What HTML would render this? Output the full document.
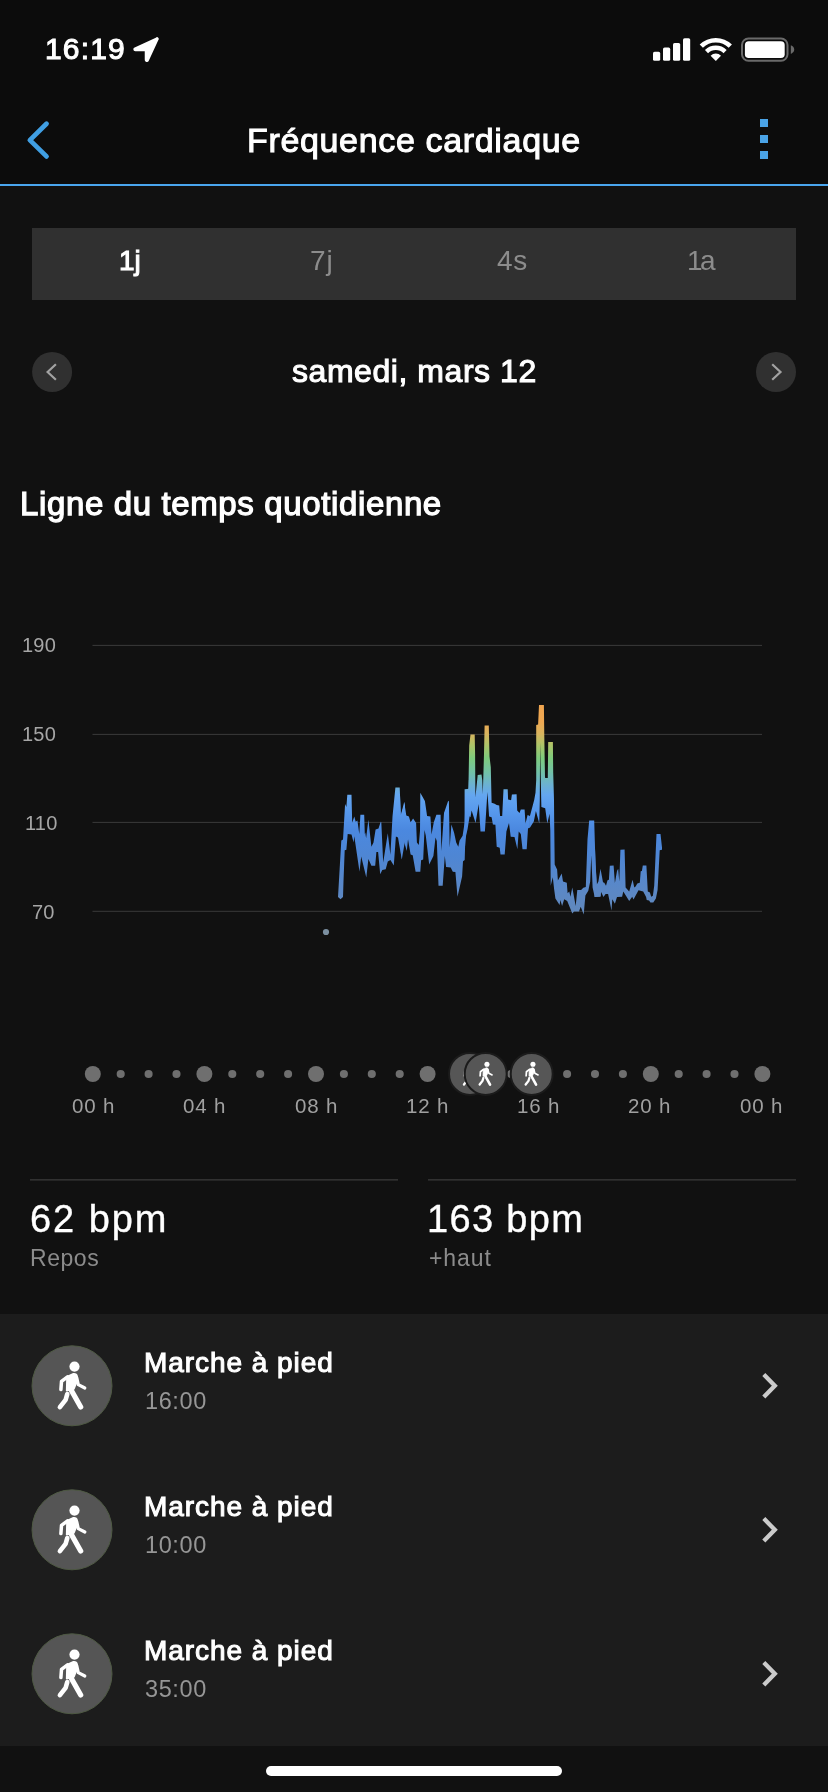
<!DOCTYPE html>
<html lang="fr">
<head>
<meta charset="utf-8">
<title>Fréquence cardiaque</title>
<style>
*{margin:0;padding:0;box-sizing:border-box;}
html,body{width:828px;height:1792px;overflow:hidden;background:#111111;}
body{position:relative;font-family:"Liberation Sans",sans-serif;color:#fff;-webkit-font-smoothing:antialiased;}
.abs{position:absolute;white-space:nowrap;line-height:1;will-change:transform;}
.semi{-webkit-text-stroke:1.05px #fff;paint-order:stroke fill;}
#header{position:absolute;left:0;top:0;width:828px;height:184px;background:#0c0c0c;}
#hline{position:absolute;left:0;top:184px;width:828px;height:2px;background:#4aa6ee;}
#tabs{position:absolute;left:32px;top:228px;width:764px;height:72px;background:#303030;}
#list{position:absolute;left:0;top:1314px;width:828px;height:432px;background:#1c1c1c;}
#homebar{position:absolute;left:266px;top:1766px;width:296px;height:10px;border-radius:5px;background:#fff;}
svg{position:absolute;left:0;top:0;overflow:visible;}
.g{color:#8c8c8c;}
</style>
</head>
<body>
<div id="header"></div>
<div id="hline"></div>

<!-- status bar -->
<div class="abs semi" id="time" style="left:44.5px;top:34.4px;font-size:30px;letter-spacing:1.15px;">16:19</div>

<!-- title -->
<div class="abs semi" id="title" style="left:247px;top:122.62px;font-size:34px;letter-spacing:0.66px;">Fréquence cardiaque</div>

<!-- tabs -->
<div id="tabs"></div>
<div class="abs semi" id="t1" style="left:118.5px;top:247px;font-size:28px;">1j</div>
<div class="abs g" id="t2" style="left:310px;top:247px;font-size:28px;letter-spacing:1px;">7j</div>
<div class="abs g" id="t3" style="left:496.5px;top:247px;font-size:28px;letter-spacing:0.7px;">4s</div>
<div class="abs g" id="t4" style="left:686.5px;top:247px;font-size:28px;letter-spacing:-2.5px;">1a</div>

<!-- date -->
<div class="abs semi" id="date" style="left:291.5px;top:355.31px;font-size:32px;letter-spacing:0.55px;">samedi, mars 12</div>

<!-- section title -->
<div class="abs semi" id="sect" style="-webkit-text-stroke-width:1.25px;left:20px;top:486.67px;font-size:33px;letter-spacing:0.63px;">Ligne du temps quotidienne</div>

<!-- y labels -->
<div class="abs yl" id="y190" style="left:22px;top:635px;">190</div>
<div class="abs yl" id="y150" style="left:22px;top:724px;">150</div>
<div class="abs yl" id="y110" style="left:25.3px;top:813px;">110</div>
<div class="abs yl" id="y70" style="left:32.2px;top:902px;">70</div>

<!-- x labels -->
<div class="abs xl" id="x0" style="left:72px;top:1096px;">00 h</div>
<div class="abs xl" id="x4" style="left:183px;top:1096px;">04 h</div>
<div class="abs xl" id="x8" style="left:295px;top:1096px;">08 h</div>
<div class="abs xl" id="x12" style="left:406.3px;top:1096px;">12 h</div>
<div class="abs xl" id="x16" style="left:517.3px;top:1096px;">16 h</div>
<div class="abs xl" id="x20" style="left:628.3px;top:1096px;">20 h</div>
<div class="abs xl" id="x24" style="left:740px;top:1096px;">00 h</div>

<!-- stats -->
<div class="abs" id="s1" style="-webkit-text-stroke:0.35px #fff;left:29.5px;top:1200.4px;font-size:38px;letter-spacing:1.95px;">62 bpm</div>
<div class="abs g" id="s1l" style="left:30px;top:1247.2px;font-size:23px;letter-spacing:0.55px;">Repos</div>
<div class="abs" id="s2" style="-webkit-text-stroke:0.35px #fff;left:426.5px;top:1200.4px;font-size:38px;letter-spacing:1.35px;">163 bpm</div>
<div class="abs g" id="s2l" style="left:428.5px;top:1247.2px;font-size:23px;letter-spacing:0.9px;">+haut</div>

<!-- list -->
<div id="list"></div>
<div class="abs semi lt" id="l1" style="left:144px;top:1348.8px;">Marche à pied</div>
<div class="abs ls" id="l1s" style="left:144.5px;top:1390.01px;">16:00</div>
<div class="abs semi lt" id="l2" style="left:144px;top:1492.8px;">Marche à pied</div>
<div class="abs ls" id="l2s" style="left:144.5px;top:1534.01px;">10:00</div>
<div class="abs semi lt" id="l3" style="left:144px;top:1636.8px;">Marche à pied</div>
<div class="abs ls" id="l3s" style="left:144.5px;top:1678.01px;">35:00</div>

<div id="homebar"></div>

<svg id="gfx" width="828" height="1792" viewBox="0 0 828 1792">
<path d="M135.17 47.17 L155.83 37.74 A1.5 1.5 0 0 1 158.35 40.09 L148.78 60.65 A2.1 2.1 0 0 1 144.74 59.57 L144.74 51.3 L135.39 51.3 A2.07 2.07 0 0 1 135.17 47.17 Z" fill="#fff"/>
<rect x="653" y="51.8" width="7.2" height="9" rx="1.6" fill="#fff"/>
<rect x="663" y="47.6" width="7.2" height="13.2" rx="1.6" fill="#fff"/>
<rect x="673" y="43.0" width="7.2" height="17.8" rx="1.6" fill="#fff"/>
<rect x="683" y="38.2" width="7.2" height="22.6" rx="1.6" fill="#fff"/>
<g id="wifi" fill="none" stroke="#fff" stroke-linecap="butt"><path d="M701.3 46.2 A20.5 20.5 0 0 1 730.3 46.2" stroke-width="4.6"/><path d="M706.5 51.6 A13.2 13.2 0 0 1 725.1 51.6" stroke-width="4.4"/></g>
<path d="M715.8 61 L710.6 55.7 A7.4 7.4 0 0 1 721 55.7 Z" fill="#fff"/>
<rect x="742" y="38.5" width="45.5" height="22.3" rx="6.5" fill="none" stroke="#6a6a6a" stroke-width="2"/>
<rect x="744.9" y="41.3" width="39.8" height="16.7" rx="3.8" fill="#fff"/>
<path d="M790.8 45.2 Q794.2 46.6 794.2 49.6 Q794.2 52.6 790.8 54 Z" fill="#6a6a6a"/>
<path d="M46.5 123.8 L29.9 140.1 L46.5 156.4" fill="none" stroke="#409fe3" stroke-width="4.8" stroke-linecap="round" stroke-linejoin="round"/>
<rect x="760" y="119" width="8" height="8" fill="#4aa3e6"/>
<rect x="760" y="135" width="8" height="8" fill="#4aa3e6"/>
<rect x="760" y="151" width="8" height="8" fill="#4aa3e6"/>
<circle cx="52.1" cy="372" r="20" fill="#303030"/>
<path d="M55.9 364.2 L47.6 372 L55.9 379.8" fill="none" stroke="#a2a2a2" stroke-width="2.2"/>
<circle cx="776" cy="372" r="20" fill="#303030"/>
<path d="M772.2 364.2 L780.5 372 L772.2 379.8" fill="none" stroke="#a2a2a2" stroke-width="2.2"/>
<rect x="92.5" y="644.9" width="669.5" height="1" fill="#3a3a3a"/>
<rect x="92.5" y="733.9" width="669.5" height="1" fill="#3a3a3a"/>
<rect x="92.5" y="821.9" width="669.5" height="1" fill="#3a3a3a"/>
<rect x="92.5" y="910.8" width="669.5" height="1" fill="#3a3a3a"/>
<circle cx="92.8" cy="1074" r="8" fill="#6f6f6f"/>
<circle cx="120.7" cy="1074" r="4.05" fill="#6f6f6f"/>
<circle cx="148.6" cy="1074" r="4.05" fill="#6f6f6f"/>
<circle cx="176.5" cy="1074" r="4.05" fill="#6f6f6f"/>
<circle cx="204.4" cy="1074" r="8" fill="#6f6f6f"/>
<circle cx="232.3" cy="1074" r="4.05" fill="#6f6f6f"/>
<circle cx="260.2" cy="1074" r="4.05" fill="#6f6f6f"/>
<circle cx="288.1" cy="1074" r="4.05" fill="#6f6f6f"/>
<circle cx="316.0" cy="1074" r="8" fill="#6f6f6f"/>
<circle cx="343.9" cy="1074" r="4.05" fill="#6f6f6f"/>
<circle cx="371.8" cy="1074" r="4.05" fill="#6f6f6f"/>
<circle cx="399.7" cy="1074" r="4.05" fill="#6f6f6f"/>
<circle cx="427.6" cy="1074" r="8" fill="#6f6f6f"/>
<circle cx="511.3" cy="1074" r="4.05" fill="#6f6f6f"/>
<circle cx="567.1" cy="1074" r="4.05" fill="#6f6f6f"/>
<circle cx="595.0" cy="1074" r="4.05" fill="#6f6f6f"/>
<circle cx="622.9" cy="1074" r="4.05" fill="#6f6f6f"/>
<circle cx="650.8" cy="1074" r="8" fill="#6f6f6f"/>
<circle cx="678.7" cy="1074" r="4.05" fill="#6f6f6f"/>
<circle cx="706.6" cy="1074" r="4.05" fill="#6f6f6f"/>
<circle cx="734.5" cy="1074" r="4.05" fill="#6f6f6f"/>
<circle cx="762.4" cy="1074" r="8" fill="#6f6f6f"/>
<rect x="30" y="1179.2" width="368" height="1.3" fill="#3a3a3a"/>
<rect x="428" y="1179.2" width="368" height="1.3" fill="#3a3a3a"/>
<defs><g id="walk"><circle cx="42.5" cy="20.8" r="5.1" fill="#fff"/><path d="M35 30.8 L41.4 27.9 Q44.6 27.6 45.2 30.6 L44.9 36 L41.9 43.2 L34.6 44.9 Z" fill="#fff" stroke="#fff" stroke-width="1.5" stroke-linejoin="round"/><path d="M35.5 31 L29.5 35.6 L28.9 43.8" fill="none" stroke="#fff" stroke-width="3.5" stroke-linecap="round" stroke-linejoin="round"/><path d="M44.8 32 L46.3 38.8 L52.8 42.2" fill="none" stroke="#fff" stroke-width="3.2" stroke-linecap="round" stroke-linejoin="round"/><path d="M39.4 44.6 L48.7 61.3" fill="none" stroke="#fff" stroke-width="5.2" stroke-linecap="round"/><path d="M35.3 48.2 L33.6 54 L27.9 61.3" fill="none" stroke="#fff" stroke-width="4.6" stroke-linecap="round" stroke-linejoin="round"/></g></defs>
<circle cx="72" cy="1385.8" r="40" fill="#555555" stroke="#4f5a44" stroke-width="1"/>
<use href="#walk" x="32" y="1345.8"/>
<path d="M763.8 1374.6 L774.8 1385.8 L763.8 1397.0" fill="none" stroke="#cbcbcb" stroke-width="4.3" stroke-linejoin="miter"/>
<circle cx="72" cy="1529.8" r="40" fill="#555555" stroke="#4f5a44" stroke-width="1"/>
<use href="#walk" x="32" y="1489.8"/>
<path d="M763.8 1518.6 L774.8 1529.8 L763.8 1541.0" fill="none" stroke="#cbcbcb" stroke-width="4.3" stroke-linejoin="miter"/>
<circle cx="72" cy="1673.8" r="40" fill="#555555" stroke="#4f5a44" stroke-width="1"/>
<use href="#walk" x="32" y="1633.8"/>
<path d="M763.8 1662.6 L774.8 1673.8 L763.8 1685.0" fill="none" stroke="#cbcbcb" stroke-width="4.3" stroke-linejoin="miter"/>
<defs><linearGradient id="hr" gradientUnits="userSpaceOnUse" x1="0" y1="700" x2="0" y2="915"><stop offset="0.023" stop-color="#f0a550"/><stop offset="0.102" stop-color="#eea852"/><stop offset="0.158" stop-color="#d8b45e"/><stop offset="0.209" stop-color="#aec468"/><stop offset="0.270" stop-color="#7ecb7d"/><stop offset="0.335" stop-color="#72c2a6"/><stop offset="0.391" stop-color="#6cb2d0"/><stop offset="0.442" stop-color="#64a6f0"/><stop offset="0.521" stop-color="#5798ec"/><stop offset="0.605" stop-color="#4b88df"/><stop offset="0.726" stop-color="#4e86d4"/><stop offset="0.884" stop-color="#5b88c6"/><stop offset="0.986" stop-color="#6088bc"/></linearGradient></defs>
<path d="M338.0 897.1 L341.3 840.4 L343.0 839.6 L345.1 804.1 L346.4 807.1 L347.3 794.8 L351.5 794.8 L352.2 822.7 L354.3 816.4 L355.7 821.8 L357.4 820.6 L359.3 834.1 L360.4 814.7 L364.2 814.7 L364.8 834.1 L365.3 832.4 L366.1 838.3 L368.4 819.7 L371.4 846.8 L373.5 842.6 L375.6 829.5 L378.5 828.6 L380.7 821.8 L381.3 822.3 L383.2 862.4 L387.8 833.3 L390.4 854.8 L392.5 816.4 L395.4 787.6 L399.7 787.6 L400.8 815.5 L405.0 802.0 L405.0 840.9 L401.8 859.5 L398.0 837.5 L395.9 836.6 L393.8 865.4 L390.4 859.9 L387.8 861.6 L385.7 869.2 L382.3 870.0 L380.2 874.3 L378.1 851.9 L376.4 851.9 L375.2 865.8 L371.4 865.8 L368.4 859.0 L366.3 877.6 L361.2 856.5 L359.5 871.7 L354.3 836.2 L353.6 842.6 L351.5 834.5 L347.7 834.1 L346.4 849.7 L344.7 850.2 L343.5 881.4 L343.0 897.1 L340.5 899.2 L338.0 897.1Z" fill="url(#hr)"/>
<path d="M399.7 787.6 L400.8 815.5 L404.2 802.0 L406.3 815.5 L408.9 816.4 L410.6 822.3 L413.1 818.5 L416.1 823.1 L416.9 842.6 L418.8 845.1 L420.0 830.7 L420.3 792.7 L424.9 801.1 L427.1 815.9 L430.4 816.4 L431.5 834.5 L433.8 822.3 L436.4 814.7 L440.6 814.7 L441.4 851.0 L444.0 813.0 L448.2 800.7 L448.9 801.6 L449.7 847.6 L451.4 824.4 L454.1 832.8 L456.2 842.6 L458.3 846.8 L459.6 840.4 L462.6 835.8 L464.7 822.3 L465.8 789.7 L468.6 788.5 L468.9 780.0 L470.0 780.0 L470.0 813.8 L467.6 829.0 L465.3 839.2 L464.7 859.9 L463.0 861.2 L462.1 876.4 L457.5 896.7 L455.4 872.1 L452.8 871.7 L450.7 867.5 L446.1 867.1 L444.8 856.1 L442.7 885.7 L438.5 885.7 L436.8 840.9 L435.5 837.5 L433.4 856.1 L429.2 864.5 L425.8 835.8 L424.5 829.9 L423.2 859.5 L421.1 860.3 L420.3 871.7 L415.6 871.7 L412.7 855.2 L410.6 854.4 L408.0 839.2 L406.8 851.0 L403.8 840.9 L403.0 839.2 L401.3 859.5 L399.7 830.7Z" fill="url(#hr)"/>
<path d="M464.6 789.3 L468.4 788.9 L469.2 745.4 L470.5 734.5 L474.7 734.5 L475.1 753.8 L475.4 797.4 L477.7 774.9 L481.5 774.5 L482.3 780.4 L482.8 794.4 L484.0 753.8 L484.6 725.5 L488.8 725.5 L489.5 756.4 L490.8 767.3 L491.6 802.8 L494.6 803.7 L496.7 805.0 L499.2 805.4 L500.1 816.0 L502.2 816.0 L503.5 789.3 L507.7 789.3 L508.1 799.5 L511.1 800.3 L511.9 794.4 L516.6 794.2 L517.2 810.5 L519.5 813.0 L520.8 809.6 L524.6 809.6 L525.5 823.6 L527.6 815.1 L529.9 816.0 L529.9 827.4 L528.0 828.6 L526.7 849.3 L522.5 849.3 L520.8 834.1 L518.7 831.6 L517.4 849.3 L514.5 837.1 L510.7 836.7 L509.0 823.1 L506.4 831.6 L504.7 854.4 L500.5 854.4 L499.7 847.7 L496.7 846.8 L495.4 824.8 L492.9 824.4 L491.6 817.2 L489.1 816.4 L487.4 791.9 L485.5 822.3 L484.9 831.6 L480.5 831.6 L478.7 804.1 L475.6 823.1 L471.6 810.6 L470.5 817.2 L468.4 815.5 L466.7 825.7 L464.6 851.9Z" fill="url(#hr)"/>
<path d="M529.6 817.2 L533.0 804.5 L534.2 799.9 L535.5 792.7 L536.2 780.0 L536.2 725.1 L538.1 724.5 L539.0 705.0 L543.9 705.0 L544.3 736.3 L545.0 777.5 L545.4 777.9 L547.8 777.9 L548.2 742.1 L552.9 742.1 L553.2 772.6 L554.0 799.9 L554.2 822.3 L554.7 864.5 L557.1 869.6 L557.9 880.6 L561.7 873.4 L563.0 881.4 L566.8 882.7 L567.6 893.3 L569.3 891.6 L570.4 896.7 L572.3 887.4 L575.7 906.0 L577.3 889.9 L581.1 889.9 L583.3 887.8 L585.8 886.9 L587.5 839.2 L589.2 820.6 L594.2 820.6 L595.5 864.5 L596.8 884.8 L598.5 884.8 L600.6 872.1 L600.6 896.2 L594.7 897.1 L592.6 887.4 L591.3 855.2 L590.2 881.4 L588.3 890.7 L585.4 895.4 L583.7 914.4 L580.7 906.8 L579.0 911.5 L574.0 911.5 L572.3 913.6 L567.2 900.9 L564.2 899.2 L562.1 906.0 L560.4 900.0 L559.6 905.1 L555.4 898.4 L554.1 889.1 L552.8 877.2 L550.7 885.7 L550.3 830.7 L549.6 813.8 L547.3 823.5 L545.2 808.3 L541.4 807.1 L541.2 799.9 L540.1 742.4 L539.8 799.9 L539.3 823.5 L537.6 817.2 L535.9 810.9 L533.8 821.4 L529.6 828.2Z" fill="url(#hr)"/>
<path d="M594.6 839.2 L595.7 864.5 L596.7 884.8 L598.4 881.4 L600.5 868.8 L603.0 882.3 L604.3 882.7 L606.0 885.7 L607.5 880.2 L608.9 879.8 L609.8 865.8 L613.6 865.6 L614.9 883.1 L617.0 870.9 L618.2 868.8 L619.3 881.4 L620.4 849.7 L624.6 849.5 L625.6 887.4 L629.2 891.6 L632.6 879.8 L634.3 887.4 L635.6 886.5 L637.3 883.6 L639.8 882.7 L640.7 871.3 L641.9 870.9 L642.8 865.4 L646.4 865.4 L647.8 891.6 L649.9 892.4 L651.2 896.7 L652.9 895.8 L654.2 885.7 L655.9 847.6 L656.5 834.1 L660.5 834.1 L662.0 847.6 L662.0 849.7 L662.0 849.7 L659.7 850.2 L657.6 889.9 L655.9 898.4 L653.3 902.6 L650.4 902.6 L649.1 900.5 L646.7 900.0 L646.1 897.1 L643.2 891.6 L638.5 890.3 L633.5 899.6 L632.2 896.7 L629.2 900.9 L623.3 891.6 L622.1 896.7 L617.0 897.1 L614.9 903.8 L612.3 899.2 L611.5 910.6 L608.1 894.1 L605.6 894.1 L603.5 897.1 L601.1 892.0 L600.5 896.7 L594.6 897.1Z" fill="url(#hr)"/>
<circle cx="326" cy="932" r="3.1" fill="#7b8fa0"/>
<circle cx="470.0" cy="1073.9" r="21" fill="#565656" stroke="#1b1b1b" stroke-width="2"/>
<use href="#walk" transform="translate(450.0 1053.9) scale(0.5)"/>
<circle cx="485.7" cy="1073.9" r="21" fill="#565656" stroke="#1b1b1b" stroke-width="2"/>
<use href="#walk" transform="translate(465.7 1053.9) scale(0.5)"/>
<circle cx="531.7" cy="1073.9" r="21" fill="#565656" stroke="#1b1b1b" stroke-width="2"/>
<use href="#walk" transform="translate(511.7 1053.9) scale(0.5)"/>
</svg>
<style>
.yl{font-size:20px;color:#a6a6a6;letter-spacing:0.2px;}
.xl{font-size:20.5px;color:#a0a0a0;letter-spacing:0.8px;}
.lt{font-size:28px;letter-spacing:0.95px;}
.ls{font-size:23.5px;color:#969696;letter-spacing:0.6px;}
</style>
</body>
</html>
